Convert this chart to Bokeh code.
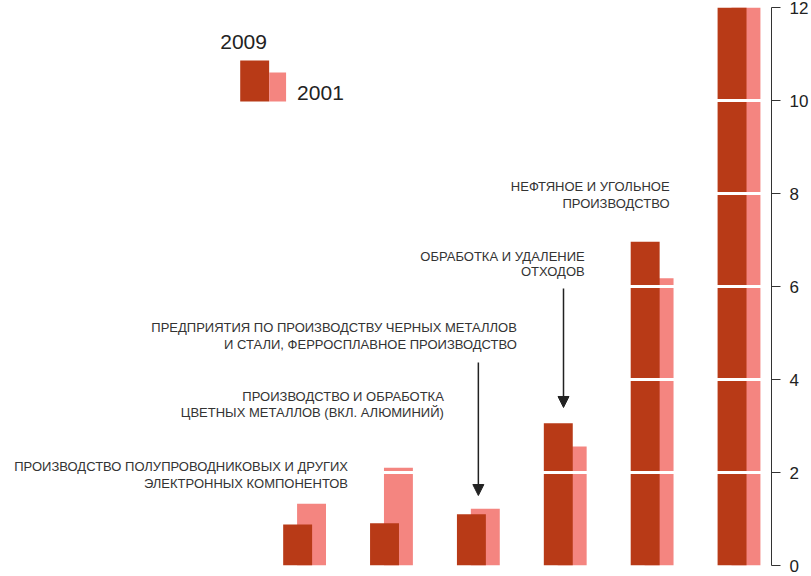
from bokeh.plotting import figure
from bokeh.models import FixedTicker, Label, Arrow, NormalHead, BoxAnnotation, Range1d
from bokeh.embed import file_html
from bokeh.resources import INLINE

# ---- data ----
categories = [
    "Производство полупроводниковых и других электронных компонентов",
    "Производство и обработка цветных металлов (вкл. алюминий)",
    "Предприятия по производству черных металлов и стали, ферросплавное производство",
    "Обработка и удаление отходов",
    "Нефтяное и угольное производство",
    "Производство электроэнергии",
]
values_2009 = [0.88, 0.91, 1.10, 3.06, 6.96, 14.0]
values_2001 = [1.33, 2.10, 1.22, 2.56, 6.18, 13.2]
y_ticks = [0, 2, 4, 6, 8, 10, 12]
series_names = ["2009", "2001"]

DARK = "#B83A17"
PINK = "#F48580"
TXT = "#333333"
FONT = "Liberation Sans"

idx = list(range(len(categories)))
x_dark = [i - 0.08 for i in idx]
x_pink = [i + 0.08 for i in idx]

p = figure(width=811, height=576, output_backend="svg", toolbar_location=None,
           x_axis_location=None, y_axis_location="right",
           x_range=Range1d(-3.5, 5.374), y_range=Range1d(0, 12),
           min_border_left=0, min_border_top=7, min_border_bottom=11, min_border_right=39)
p.outline_line_color = None
p.background_fill_color = "white"
p.border_fill_color = "white"

p.vbar(x=x_pink, top=values_2001, width=0.333, bottom=0, fill_color=PINK, line_color=None)
p.vbar(x=x_dark, top=values_2009, width=0.333, bottom=0, fill_color=DARK, line_color=None)

p.xgrid.visible = False
p.ygrid.ticker = FixedTicker(ticks=y_ticks[1:-1])
p.ygrid.grid_line_color = "white"
p.ygrid.grid_line_width = 3
p.ygrid.level = "glyph"

ax = p.yaxis[0]
ax.ticker = FixedTicker(ticks=y_ticks)
ax.major_tick_out = 9
ax.major_tick_in = 0
ax.minor_tick_line_color = None
ax.axis_line_color = "#333333"
ax.major_tick_line_color = "#333333"
ax.major_label_text_font_size = "17px"
ax.major_label_text_font = FONT
ax.major_label_text_color = "#222222"
ax.major_label_standoff = 9

# legend
p.add_layout(BoxAnnotation(left=-0.741, right=-0.408, bottom=9.978, top=10.86,
                           fill_color=DARK, fill_alpha=1, line_color=None))
p.add_layout(BoxAnnotation(left=-0.408, right=-0.213, bottom=9.978, top=10.60,
                           fill_color=PINK, fill_alpha=1, line_color=None))
p.add_layout(Label(x=-0.971, y=11.25, text=series_names[0], text_align="left", text_baseline="middle",
                   text_font_size="21px", text_font=FONT, text_color="#222222"))
p.add_layout(Label(x=-0.086, y=10.17, text=series_names[1], text_align="left", text_baseline="middle",
                   text_font_size="21px", text_font=FONT, text_color="#222222"))

# annotations
ann = [
    (0.5, 2.129, "ПРОИЗВОДСТВО ПОЛУПРОВОДНИКОВЫХ И ДРУГИХ"),
    (0.5, 1.763, "ЭЛЕКТРОННЫХ КОМПОНЕНТОВ"),
    (1.603, 3.634, "ПРОИЗВОДСТВО И ОБРАБОТКА"),
    (1.603, 3.290, "ЦВЕТНЫХ МЕТАЛЛОВ (ВКЛ. АЛЮМИНИЙ)"),
    (2.443, 5.118, "ПРЕДПРИЯТИЯ ПО ПРОИЗВОДСТВУ ЧЕРНЫХ МЕТАЛЛОВ"),
    (2.443, 4.753, "И СТАЛИ, ФЕРРОСПЛАВНОЕ ПРОИЗВОДСТВО"),
    (3.224, 6.645, "ОБРАБОТКА И УДАЛЕНИЕ"),
    (3.224, 6.323, "ОТХОДОВ"),
    (4.201, 8.151, "НЕФТЯНОЕ И УГОЛЬНОЕ"),
    (4.201, 7.785, "ПРОИЗВОДСТВО"),
]
for x, y, t in ann:
    p.add_layout(Label(x=x, y=y, text=t, text_align="right", text_baseline="middle",
                       text_font_size="13px", text_font=FONT, text_color=TXT))

for xa, y0, y1 in [(idx[2], 4.366, 1.505), (idx[3] - 0.02, 5.957, 3.398)]:
    p.add_layout(Arrow(end=NormalHead(size=11, fill_color="#222222", line_color="#222222"),
                       x_start=xa, y_start=y0, x_end=xa, y_end=y1,
                       line_width=1.5, line_color="#222222"))

open("out.html", "w").write(file_html(p, INLINE))
